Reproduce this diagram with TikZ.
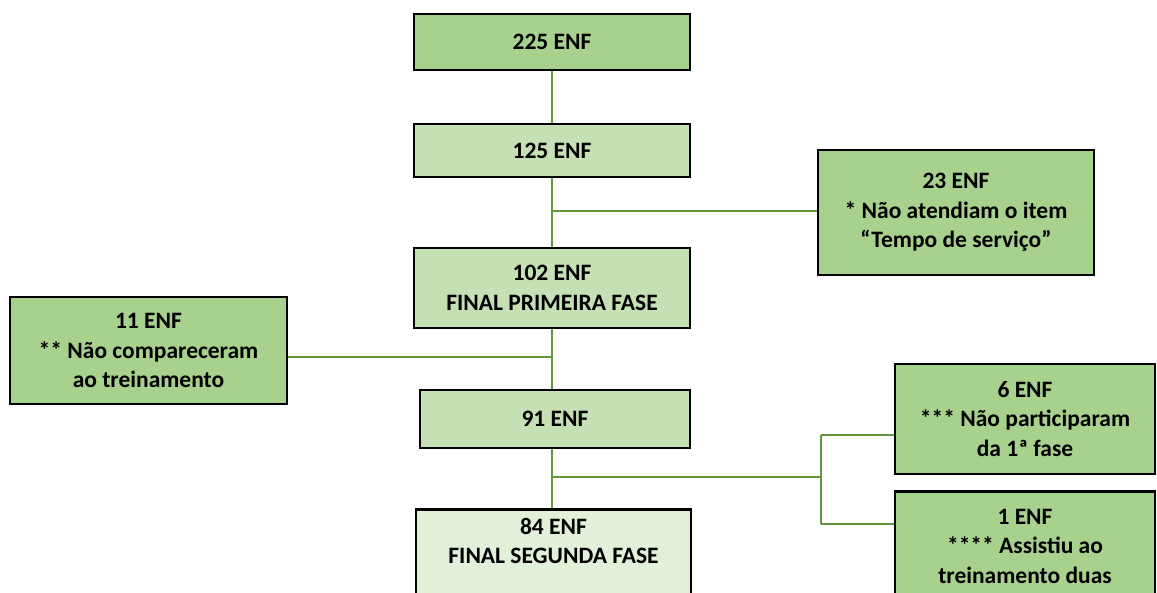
\documentclass[tikz,border=0pt]{standalone}
\usepackage{fontspec}
\setmainfont{Carlito}
\definecolor{gdark}{HTML}{A9D18E}
\definecolor{gmid}{HTML}{C5E0B4}
\definecolor{glight}{HTML}{E2F0D9}
\definecolor{conn}{RGB}{100,150,62}
\tikzset{
  box/.style={draw=black, line width=2.6pt, inner sep=0pt, align=center,
    font=\bfseries\fontsize{23.5}{29.5}\selectfont},
  txt/.style={inner sep=0pt, align=center, font=\bfseries\fontsize{23.5}{29.5}\selectfont},
  link/.style={draw=conn, line width=1.3pt}
}
\begin{document}
\begin{tikzpicture}[x=1pt,y=-1pt]
\useasboundingbox (0,0) rectangle (1157,593);
\clip (0,0) rectangle (1157,593);
% main column
\node[box, fill=gdark, minimum width=276pt, minimum height=56pt] (a) at (552,42) {225 ENF};
\node[box, fill=gmid, minimum width=276pt, minimum height=53pt] (b) at (552,150.5) {125 ENF};
\node[box, fill=gmid, minimum width=276pt, minimum height=80pt] (d) at (552,288) {102 ENF\\FINAL PRIMEIRA FASE};
\node[box, fill=gmid, minimum width=270pt, minimum height=58pt] (f) at (555,419) {91 ENF};
\node[box, fill=glight, minimum width=275pt, minimum height=120pt, anchor=north] (g) at (553.5,508) {};
\node[txt] (gt) at (553.5,541) {84 ENF\\FINAL SEGUNDA FASE};
% side boxes
\node[box, fill=gdark, minimum width=276pt, minimum height=125pt] (c) at (956,212.5) {23 ENF\\* Não atendiam o item\\“Tempo de serviço”};
\node[box, fill=gdark, minimum width=277pt, minimum height=107pt] (e) at (148.5,350.5) {11 ENF\\** Não compareceram\\ao treinamento};
\node[box, fill=gdark, minimum width=260pt, minimum height=110pt] (h) at (1025,419) {6 ENF\\*** Não participaram\\da 1ª fase};
\node[box, fill=gdark, minimum width=260pt, minimum height=140pt, anchor=north] (i) at (1025,490) {};
\node[txt] (it) at (1025,546) {1 ENF\\**** Assistiu ao\\treinamento duas};
% connector points
\coordinate (j1) at (552,211);
\coordinate (j2) at (552,357);
\coordinate (j3) at (552,477);
\coordinate (k3) at (821,477);
\coordinate (k1) at (821,435);
\coordinate (k2) at (821,524);
% connectors
\draw[link] (a.south) -- (b.north);
\draw[link] (b.south) -- (d.north);
\draw[link] (j1) -- (c.west |- j1);
\draw[link] (d.south) -- (f.north -| d.south);
\draw[link] (j2) -- (e.east |- j2);
\draw[link] (f.south -| j3) -- (g.north -| j3);
\draw[link] (j3) -- (k3);
\draw[link] (k1) -- (k2);
\draw[link] (k1) -- (h.west |- k1);
\draw[link] (k2) -- (i.west |- k2);
\end{tikzpicture}
\end{document}
